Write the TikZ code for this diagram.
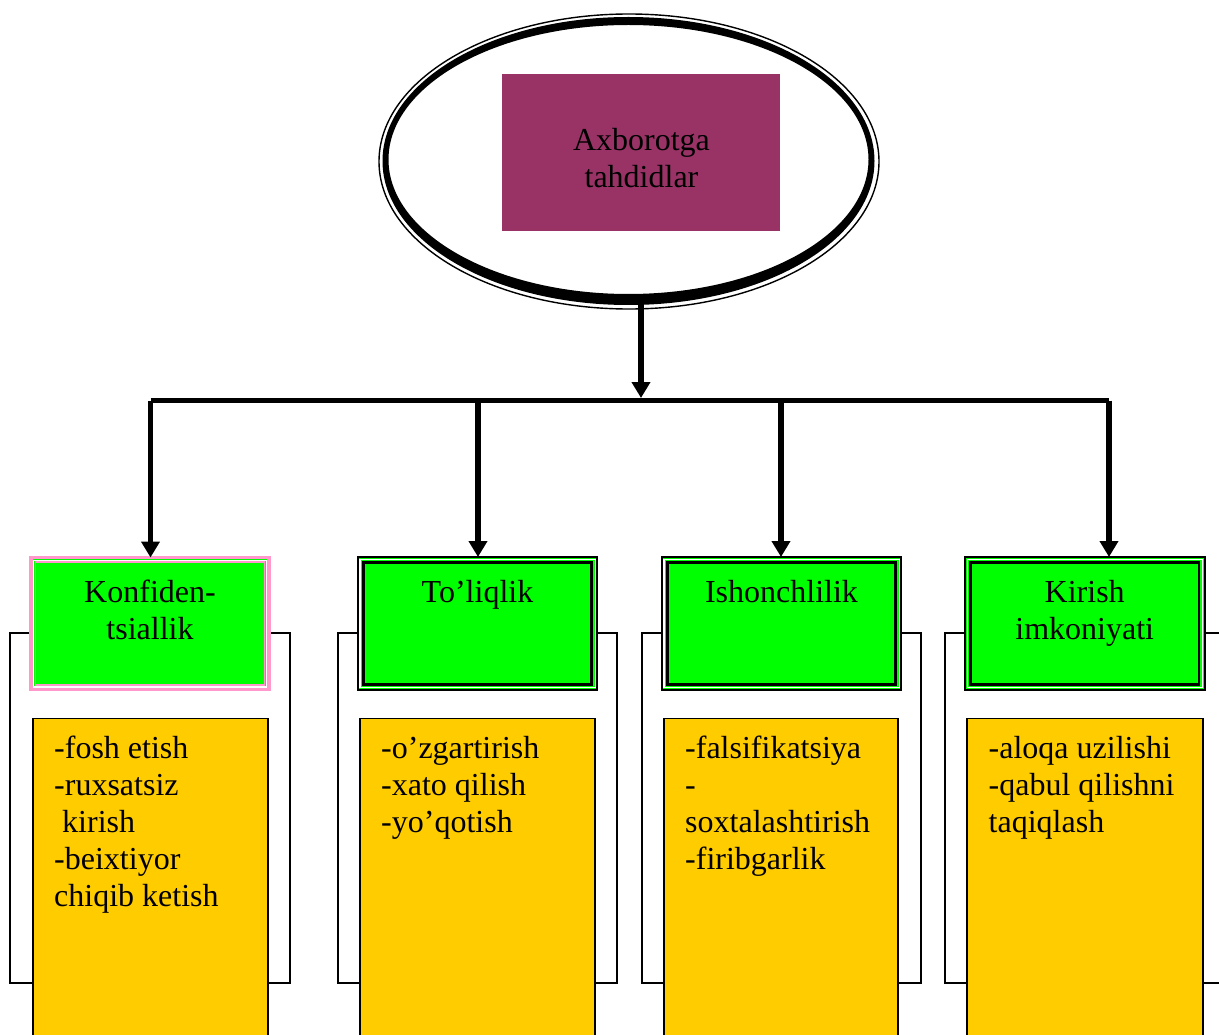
\documentclass[tikz,border=0pt]{standalone}
\usepackage{fontspec}
\setmainfont{Liberation Serif}
\usetikzlibrary{arrows.meta,shapes.geometric}
\definecolor{plum}{HTML}{993366}
\definecolor{leaf}{HTML}{00FF00}
\definecolor{amber}{HTML}{FFCC00}
\definecolor{rose}{HTML}{FF99CC}
\tikzset{
  bodyfont/.style={font=\fontsize{32}{37}\selectfont},
  frame/.style={draw, line width=2.2, minimum width=279.4, minimum height=349.7, inner sep=0, outer sep=0},
  topic/.style={fill=leaf, draw, line width=2, minimum width=239.6, minimum height=133, inner sep=0, outer sep=0},
  detail/.style={fill=amber, draw, line width=1.8, minimum width=235, minimum height=341.5, inner sep=0, outer sep=0},
  heading/.style={bodyfont, align=center, inner sep=0, anchor=north},
  listing/.style={bodyfont, align=left, inner sep=0, anchor=north west},
  feed/.style={line width=5.5, -{Triangle[width=18pt,length=16pt]}},
  bus/.style={line width=5.5},
}
\begin{document}
\begin{tikzpicture}[x=1pt, y=-1pt]
\useasboundingbox (0,0) rectangle (1219,1035);
\clip (0,0) rectangle (1219,1035);

% open frames behind each column
\node[frame] (k1) at (150,808.2) {};
\node[frame] (k2) at (477.5,808.2) {};
\node[frame] (k3) at (781.5,808.2) {};
\node[frame] (k4) at (1084.7,808.2) {};

% central ellipse: thin outer line and a heavy inner ring
\node[ellipse, draw, line width=1.4, minimum width=500, minimum height=295, inner sep=0] (root) at (629,161.5) {};
\fill[even odd rule] (628.5,161) ellipse [x radius=246, y radius=144]
                     (628.5,159.5) ellipse [x radius=240, y radius=134.5];

% title block
\node[fill=plum, minimum width=277.7, minimum height=157, inner sep=0] (title) at (641.2,152.5) {};
\node[heading] (titletext) at (641.5,124.8) {\strut Axborotga\\tahdidlar};

% category boxes
\node[topic, draw=rose, line width=3.3, minimum width=238, minimum height=132] (g1) at (150,623.5) {};
\node[topic] (g2) at (477.5,623.5) {};
\node[topic] (g3) at (781.5,623.5) {};
\node[topic] (g4) at (1084.7,623.5) {};
\draw[white, line width=1.2] ([shift={(2.6,2.6)}]g1.north west) rectangle ([shift={(-2.6,-2.6)}]g1.south east);
\draw[rose, line width=1.5] ([shift={(4.6,4.6)}]g1.north west) rectangle ([shift={(-4.6,-4.6)}]g1.south east);
\foreach \b in {g2,g3,g4}{
  \draw[white, line width=1.2] ([shift={(2.2,2.2)}]\b.north west) rectangle ([shift={(-2.2,-2.2)}]\b.south east);
  \draw[line width=2.8] ([shift={(5.6,5.6)}]\b.north west) rectangle ([shift={(-5.6,-5.6)}]\b.south east);
}
\node[heading] (h1) at (150,576.1) {\strut Konfiden-\\tsiallik};
\node[heading] (h2) at (477.5,576.1) {\strut To’liqlik};
\node[heading] (h3) at (781.5,576.1) {\strut Ishonchlilik};
\node[heading] (h4) at (1084.7,576.1) {\strut Kirish\\imkoniyati};

% detail boxes
\node[detail] (y1) at (150.5,889.25) {};
\node[detail] (y2) at (477.5,889.25) {};
\node[detail, minimum width=234] (y3) at (781,889.25) {};
\node[detail, minimum width=236] (y4) at (1085,889.25) {};
\node[listing] (l1) at (54,732.1) {\strut -fosh etish\\-ruxsatsiz\\\hspace*{0.25em}kirish\\-beixtiyor\\chiqib ketish};
\node[listing] (l2) at (381,732.1) {\strut -o’zgartirish\\-xato qilish\\-yo’qotish};
\node[listing] (l3) at (685,732.1) {\strut -falsifikatsiya\\-\\soxtalashtirish\\-firibgarlik};
\node[listing] (l4) at (988.5,732.1) {\strut -aloqa uzilishi\\-qabul qilishni\\taqiqlash};

% connectors
\coordinate (stemtop) at (641,300);
\coordinate (junction) at (641,398);
\draw[feed] (stemtop) -- (junction);
\coordinate (d1) at (150.5,400.5);
\coordinate (d2) at (478,400.5);
\coordinate (d3) at (781,400.5);
\coordinate (d4) at (1109,400.5);
\draw[bus] (d1) -- (d4);
\foreach \i in {1,...,4}
  \draw[feed] (d\i) -- (d\i |- g\i.north);
\end{tikzpicture}
\end{document}
